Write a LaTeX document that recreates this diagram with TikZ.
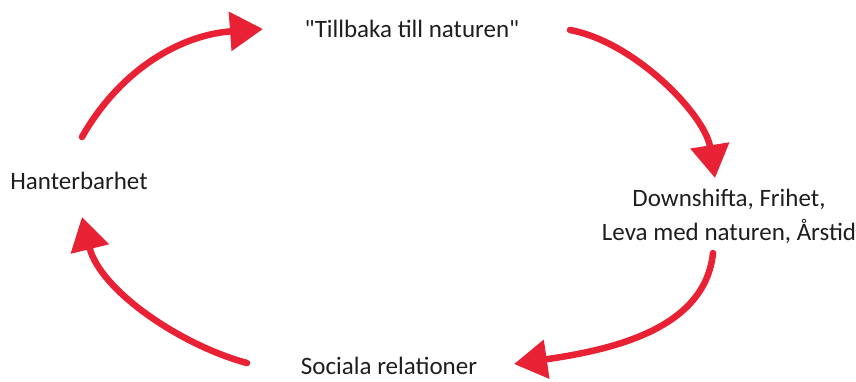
\documentclass[tikz,border=0pt]{standalone}
\usepackage{fontspec}
\setmainfont{Carlito}[Ligatures=TeXOff]
\usetikzlibrary{arrows.meta}
\definecolor{penred}{RGB}{232,34,52}
\definecolor{inkgray}{RGB}{30,30,30}
\begin{document}
\begin{tikzpicture}[x=1pt,y=-1pt,
  label/.style={text=inkgray,font=\fontsize{25}{34}\selectfont,inner sep=0pt},
  cycle/.style={draw=penred,line width=6.5pt,line cap=round,
    -{Triangle[length=33pt,width=38pt]}}]
\useasboundingbox (0,0) rectangle (856,381);
% labels
\node[label] (nature) at (412,29) {"Tillbaka till naturen"};
\node[label,align=center] (down) at (729,216) {Downshifta, Frihet,\\Leva med naturen, Årstid};
\node[label] (social) at (389,366) {Sociala relationer};
\node[label] (hant) at (79,181) {Hanterbarhet};
% arrow end points
\coordinate (a1s) at (82,137);  \coordinate (a1e) at (263,29);
\coordinate (a2s) at (570,30);  \coordinate (a2e) at (715,178);
\coordinate (a3s) at (713,253); \coordinate (a3e) at (514,364);
\coordinate (a4s) at (247,363); \coordinate (a4e) at (82,217);
% cycle arrows
\draw[cycle] (a1s) .. controls (120,70) and (180,35) .. (a1e);
\draw[cycle] (a2s) .. controls (635,42) and (705,115) .. (a2e);
\draw[cycle] (a3s) .. controls (705,330) and (610,350) .. (a3e);
\draw[cycle] (a4s) .. controls (180,345) and (100,290) .. (a4e);
\end{tikzpicture}
\end{document}
